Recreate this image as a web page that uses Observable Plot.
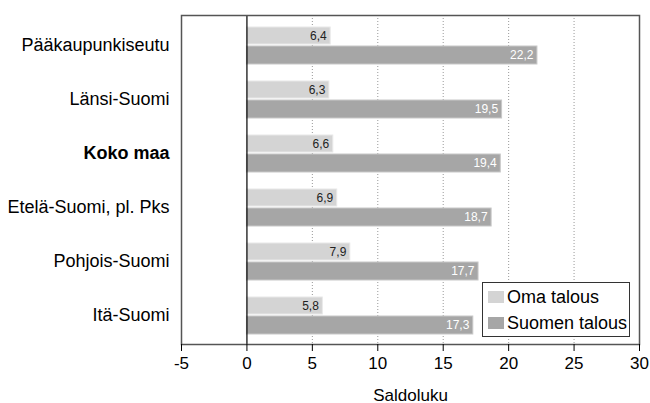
<!DOCTYPE html>
<html>
<head>
<meta charset="utf-8">
<script src="https://cdn.jsdelivr.net/npm/d3@7"></script>
<script src="https://cdn.jsdelivr.net/npm/@observablehq/plot@0.6"></script>
<style>
  body { margin: 0; background: #fff; font-family: "Liberation Sans", Arial, sans-serif; }
  #wrap { position: relative; width: 650px; height: 403px; }
  #legend { position: absolute; left: 482px; top: 282px; width: 146px; height: 53px; border: 1px solid #333; background: #fff; font-size: 18px; color: #000; }
  .item { position: absolute; left: 5px; display: flex; align-items: center; line-height: 20px; }
  .sw { width: 16px; height: 12px; margin-right: 3px; }
</style>
</head>
<body>
<div id="wrap"></div>
<script>
const regions = ["Pääkaupunkiseutu", "Länsi-Suomi", "Koko maa", "Etelä-Suomi, pl. Pks", "Pohjois-Suomi", "Itä-Suomi"];
const omaTalous = [6.4, 6.3, 6.6, 6.9, 7.9, 5.8];
const suomenTalous = [22.2, 19.5, 19.4, 18.7, 17.7, 17.3];
const xTicks = [-5, 0, 5, 10, 15, 20, 25, 30];
const gridTicks = [5, 10, 15, 20, 25];
const seriesNames = ["Oma talous", "Suomen talous"];
const seriesColors = ["#d4d4d4", "#a6a6a6"];

const oma = regions.map((r, i) => ({region: r, value: omaTalous[i]}));
const suomen = regions.map((r, i) => ({region: r, value: suomenTalous[i]}));
const fmt = v => v.toFixed(1).replace(".", ",");

const chart = Plot.plot({
  width: 650,
  height: 403,
  marginLeft: 181,
  marginRight: 11,
  marginTop: 15,
  marginBottom: 59,
  style: {fontFamily: "'Liberation Sans', Arial, sans-serif", fontSize: "17px", color: "#000"},
  x: {domain: [-5, 30]},
  y: {domain: regions, padding: 0},
  marks: [
    Plot.ruleX(gridTicks, {stroke: "#999", strokeDasharray: "1,2"}),
    Plot.barX(oma, {x1: 0, x2: "value", y: "region", fill: seriesColors[0], insetTop: 9, insetBottom: 28, stroke: "#e8e8e8", strokeWidth: 1}),
    Plot.barX(suomen, {x1: 0, x2: "value", y: "region", fill: seriesColors[1], insetTop: 28, insetBottom: 8, stroke: "#c8c8c8", strokeWidth: 1}),
    Plot.text(oma, {x: "value", y: "region", text: d => fmt(d.value), textAnchor: "end", dx: -4, dy: -9, fill: "#222", fontSize: 12}),
    Plot.text(suomen, {x: "value", y: "region", text: d => fmt(d.value), textAnchor: "end", dx: -4, dy: 10, fill: "#fff", fontSize: 12}),
    Plot.ruleX([0], {stroke: "#000", strokeWidth: 1.2}),
    Plot.frame({stroke: "#555", strokeWidth: 1.5}),
    Plot.axisX({ticks: xTicks, tickFormat: d => String(d), tickSize: 7, tickPadding: 5, fontSize: 17, label: "Saldoluku", labelAnchor: "center", labelArrow: "none", labelOffset: 56}),
    Plot.axisY({tickSize: 0, tickPadding: 12, fontSize: 18, label: null})
  ]
});

d3.select(chart).selectAll("text").filter(function() { return this.textContent === "Koko maa"; }).attr("font-weight", "bold");

const wrap = document.getElementById("wrap");
wrap.appendChild(chart);
const legend = document.createElement("div");
legend.id = "legend";
seriesNames.forEach((name, i) => {
  const item = document.createElement("div");
  item.className = "item";
  item.style.top = (i === 0 ? 4 : 30) + "px";
  const sw = document.createElement("div");
  sw.className = "sw";
  sw.style.background = seriesColors[i];
  const t = document.createElement("span");
  t.textContent = name;
  item.appendChild(sw); item.appendChild(t);
  legend.appendChild(item);
});
wrap.appendChild(legend);
</script>
</body>
</html>
